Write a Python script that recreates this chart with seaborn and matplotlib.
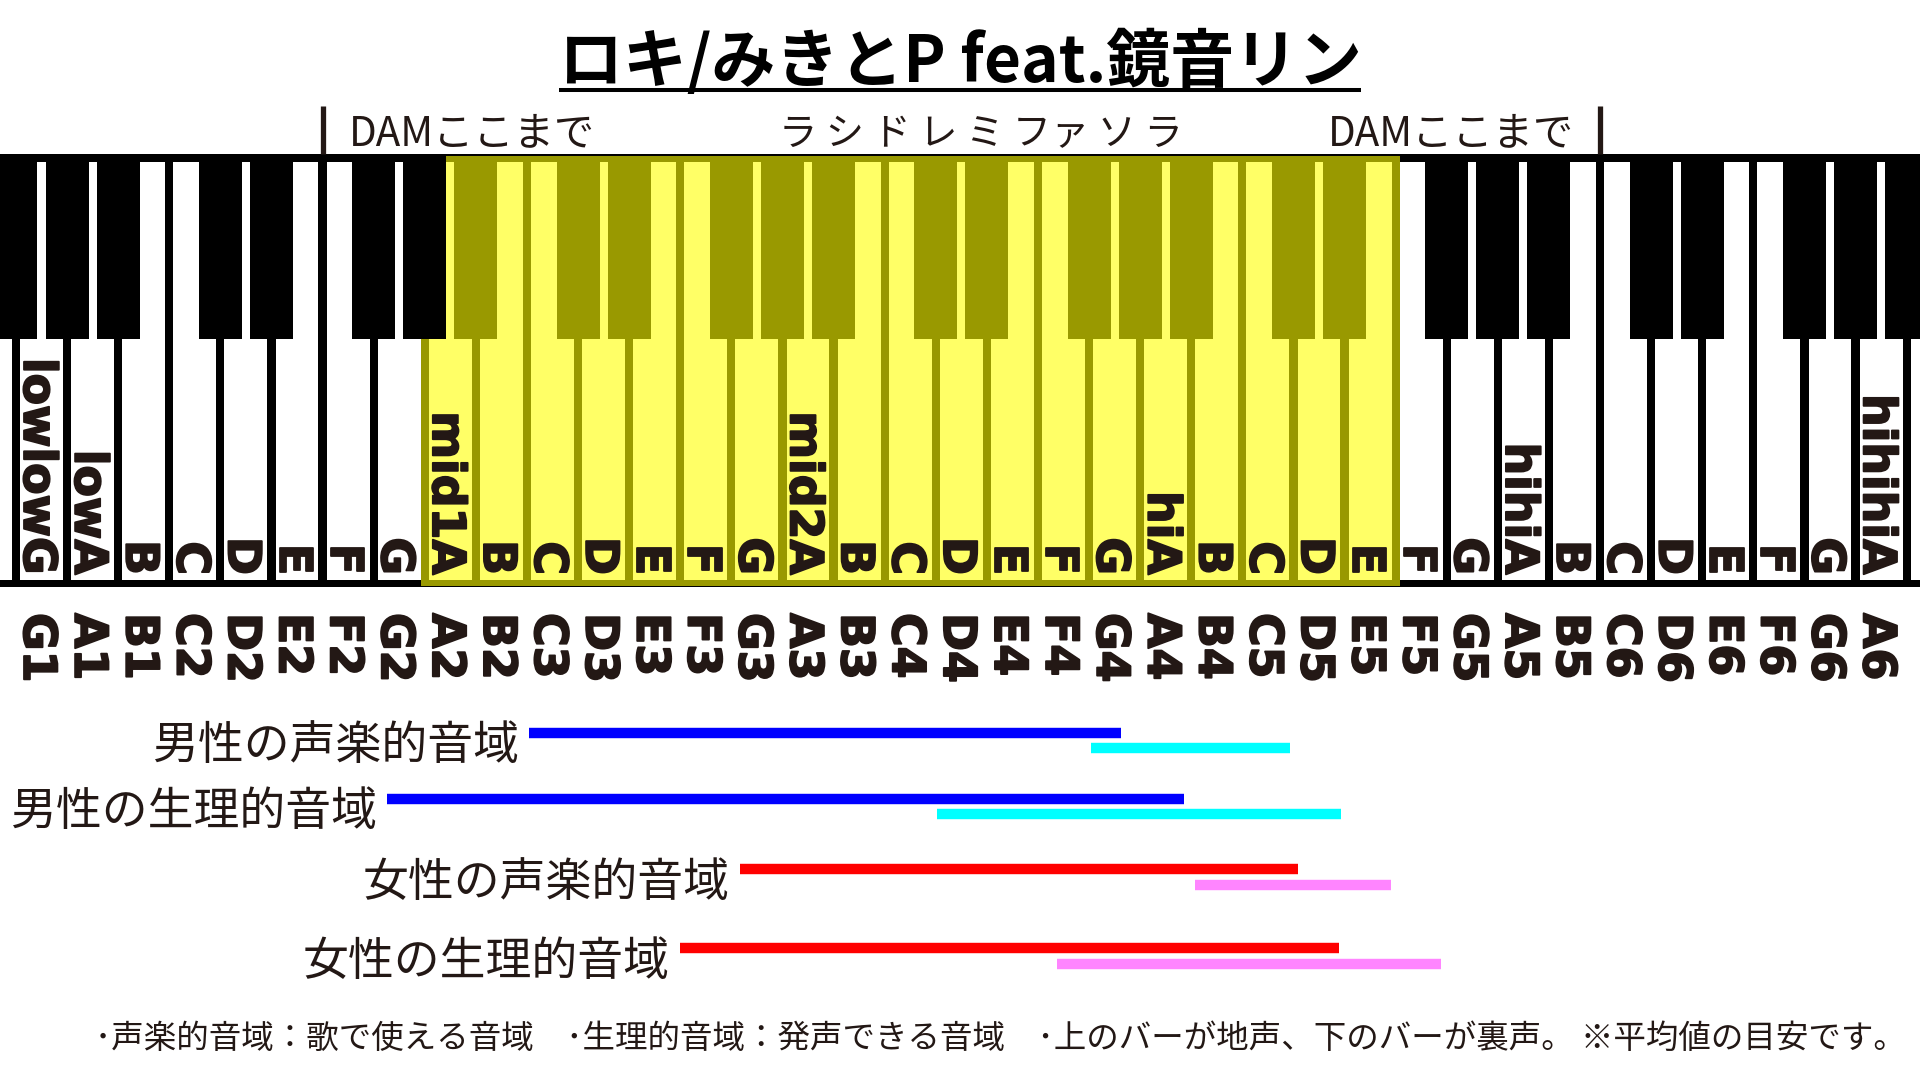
import matplotlib.pyplot as plt
import matplotlib.patheffects as pe
from matplotlib.patches import Rectangle
import pandas as pd
import seaborn as sns

sns.set_theme(style="white")
plt.rcParams["font.family"] = ["Noto Sans CJK JP", "DejaVu Sans"]

# white keys, F1 and B6 are only half visible at the edges
white_notes = ["F1", "G1", "A1", "B1",
               "C2", "D2", "E2", "F2", "G2", "A2", "B2",
               "C3", "D3", "E3", "F3", "G3", "A3", "B3",
               "C4", "D4", "E4", "F4", "G4", "A4", "B4",
               "C5", "D5", "E5", "F5", "G5", "A5", "B5",
               "C6", "D6", "E6", "F6", "G6", "A6", "B6"]
# names written on the keys (G1 .. A6)
key_names = ["lowlowG", "lowA", "B", "C", "D", "E", "F", "G",
             "mid1A", "B", "C", "D", "E", "F", "G",
             "mid2A", "B", "C", "D", "E", "F", "G",
             "hiA", "B", "C", "D", "E", "F", "G",
             "hihiA", "B", "C", "D", "E", "F", "G",
             "hihihiA"]
labelled_notes = white_notes[1:-1]

song_low, song_high = "A2", "E5"      # yellow range of the song
dam_low, dam_high = "F2", "B5"        # karaoke DAM limits

title = "ロキ/みきとP feat.鏡音リン"
scale_text = "ラ シ ド レ ミ ファ ソ ラ"
dam_text = "DAMここまで"

# average ranges, in white-key positions (G1 = 0)
range_names = ["男性の声楽的音域", "男性の生理的音域", "女性の声楽的音域", "女性の生理的音域"]
chest_low = [9.54, 6.76, 13.67, 12.49]
chest_high = [21.13, 22.36, 24.59, 25.39]
falsetto_low = [20.54, 17.52, 22.57, 19.87]
falsetto_high = [24.43, 25.43, 26.41, 27.39]
chest_colors = ["#0000FF", "#0000FF", "#FF0000", "#FF0000"]
falsetto_colors = ["#00FFFF", "#00FFFF", "#FF85FF", "#FF85FF"]

note_text = ("･声楽的音域：歌で使える音域　･生理的音域：発声できる音域　"
             "･上のバーが地声、下のバーが裏声。 ※平均値の目安です。")

TXT = "#231815"
YELLOW = "#FFFF66"
OLIVE = "#999900"

# layout (x in white keys, y in pixels from the top)
X0_PX, PITCH_PX = 41.5, 51.1


def px_x(p):
    return (p - X0_PX) / PITCH_PX


pos = {n: i - 1 for i, n in enumerate(white_notes)}
WW, BW = 0.84, 0.84
kb_top, kb_bot = 154, 587
wk_top, wk_bot = 162, 580
bk_bot = 339
row_y = [732.5, 798.5, 869, 948]
fals_dy = 15.5

fig = plt.figure(figsize=(19.2, 10.8), dpi=100)
ax = fig.add_axes([0, 0, 1, 1])
xmin, xmax = px_x(0), px_x(1920)

# keyboard body
ax.add_patch(Rectangle((xmin, kb_top), xmax - xmin, kb_bot - kb_top, color="black", lw=0))
hl_x0 = pos[song_low] - 1 + WW / 2
hl_x1 = pos[song_high] + 1 - WW / 2
ax.add_patch(Rectangle((hl_x0, kb_top + 1.5), hl_x1 - hl_x0, kb_bot - kb_top - 2.5,
                       color=OLIVE, lw=0))


def in_song(i):
    return pos[song_low] <= i <= pos[song_high]


for n in white_notes:
    i = pos[n]
    ax.add_patch(Rectangle((i - WW / 2, wk_top), WW, wk_bot - wk_top,
                           color=YELLOW if in_song(i) else "white", lw=0))
for n in white_notes:
    i = pos[n]
    if n[0] in "CDFGA":
        c = OLIVE if (in_song(i) and in_song(i + 1)) else "black"
        ax.add_patch(Rectangle((i + 0.5 - BW / 2, kb_top + 1.5), BW, bk_bot - kb_top - 1.5,
                               color=c, lw=0))

# key labels (a thin stroke makes them as heavy as the original)
heavy = [pe.withStroke(linewidth=1.3, foreground=TXT)]
for n, name in zip(labelled_notes, key_names):
    i = pos[n]
    ax.text(i, 575, name, rotation=-90, rotation_mode="anchor", ha="right",
            va="center_baseline", fontsize=33, fontweight="bold",
            family="DejaVu Sans", color=TXT, path_effects=heavy)
    ax.text(i, 613, n, rotation=-90, rotation_mode="anchor", ha="left",
            va="center_baseline", fontsize=33, fontweight="bold",
            family="DejaVu Sans", color=TXT, path_effects=heavy)

# title with underline
t = ax.text(px_x(960), 82, title, ha="center", va="baseline", fontsize=46,
            fontweight="bold", color="black")

# DAM limits and scale
xl = pos[dam_low] - 0.5
xr = pos[dam_high] + 0.5
ax.plot([xl, xl], [106, kb_top], color=TXT, lw=3.8, solid_capstyle="butt")
ax.plot([xr, xr], [106, kb_top], color=TXT, lw=3.8, solid_capstyle="butt")
ax.text(xl + 0.52, 145, dam_text, ha="left", va="baseline", fontsize=29, color=TXT)
ax.text(xr - 0.5, 145, dam_text, ha="right", va="baseline", fontsize=29, color=TXT)
ax.text(px_x(981), 145, scale_text, ha="center", va="baseline", fontsize=27.5, color=TXT)

# range bars
rows = []
palette = {}
for k, name in enumerate(range_names):
    y = row_y[k]
    s1, s2 = name + "_chest", name + "_fals"
    rows += [dict(seg=s1, x=chest_low[k], y=y), dict(seg=s1, x=chest_high[k], y=y),
             dict(seg=s2, x=falsetto_low[k], y=y + fals_dy),
             dict(seg=s2, x=falsetto_high[k], y=y + fals_dy)]
    palette[s1] = chest_colors[k]
    palette[s2] = falsetto_colors[k]
    ax.text(chest_low[k] - 0.2, y + 8, name, ha="right", va="center_baseline",
            fontsize=33, color=TXT)
df = pd.DataFrame(rows)
sns.lineplot(data=df, x="x", y="y", hue="seg", palette=palette, estimator=None,
             sort=False, legend=False, linewidth=7.5, solid_capstyle="butt", ax=ax)

ax.text(px_x(95), 1035, note_text, ha="left", va="center_baseline", fontsize=23.4, color=TXT)

ax.set_xlim(xmin, xmax)
ax.set_ylim(1080, 0)
ax.axis("off")

fig.canvas.draw()
bb = t.get_window_extent()
inv = ax.transData.inverted()
(ux0, _), (ux1, _) = inv.transform([[bb.x0, bb.y0], [bb.x1, bb.y1]])
ax.plot([ux0, ux1], [90, 90], color="black", lw=2.9, solid_capstyle="butt")
ax.set_xlim(xmin, xmax)
ax.set_ylim(1080, 0)

fig.savefig("out.png", dpi=100)
